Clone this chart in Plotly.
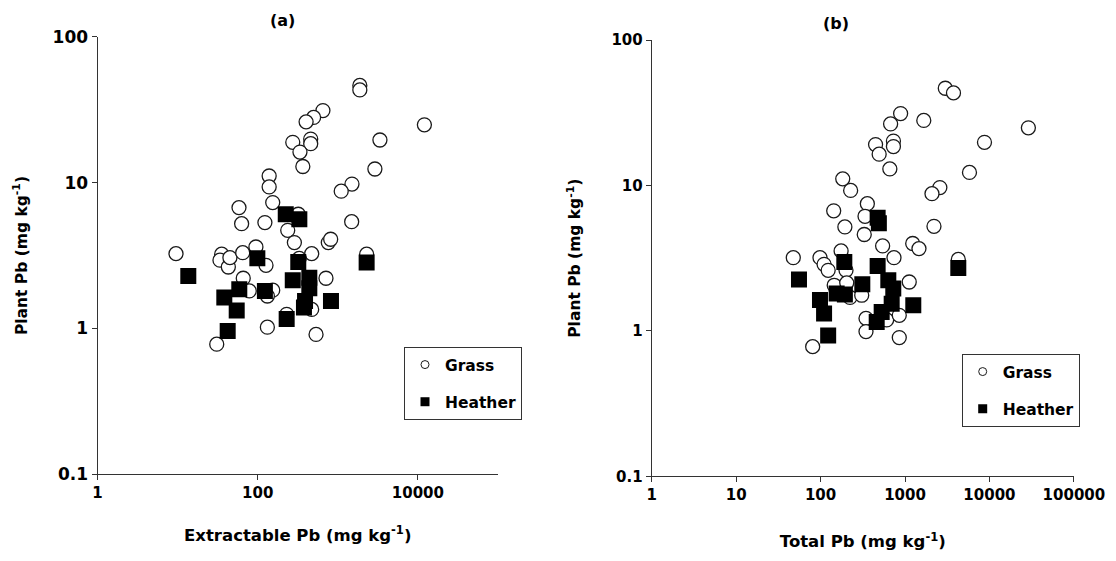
import plotly.graph_objects as go

# ---------------- data ----------------
# Panel (a): Extractable Pb vs Plant Pb
a_grass_x = [1884, 1884, 652, 499, 402, 12050, 3357, 274, 459, 459, 337, 366, 2904, 139, 139, 1503, 1103, 154,
             58.4, 63, 123, 321, 1490, 237, 287, 761, 815, 9.55, 35.5, 33.8, 43, 45, 65, 95, 127, 472, 2291,
             712, 66, 78.5, 154, 132, 472, 230, 132, 535, 30.8, 330]
a_grass_y = [46.4, 43.2, 31.2, 28.0, 26.1, 24.9, 19.6, 18.9, 19.9, 18.5, 16.2, 12.9, 12.4, 11.1, 9.35, 9.78, 8.74, 7.3,
             6.74, 5.23, 5.32, 6.07, 5.40, 4.71, 3.88, 3.88, 4.09, 3.26, 3.23, 2.94, 2.64, 3.06, 3.31, 3.62, 2.71, 3.26, 3.23,
             2.21, 2.21, 1.81, 1.83, 1.67, 1.35, 1.25, 1.02, 0.91, 0.78, 3.02]
a_heather_x = [13.6, 224, 331, 99, 321, 2291, 274, 441, 441, 58.9, 38.3, 123, 54.7, 390, 378, 822, 230, 42.2]
a_heather_y = [2.29, 6.07, 5.61, 3.03, 2.86, 2.83, 2.14, 2.23, 1.89, 1.86, 1.63, 1.81, 1.33, 1.54, 1.39, 1.54, 1.16, 0.96]

# Panel (b): Total Pb vs Plant Pb
b_grass_x = [2999, 3750, 887, 1668, 675, 28900, 8730, 448, 729, 729, 494, 661, 5800, 183, 227, 2585, 2086, 358, 143,
             336, 194, 329, 2202, 543, 1233, 1463, 47.5, 98.4, 110, 123, 175, 200, 740, 4275, 1122, 145, 204,
             223, 307, 345, 345, 606, 855, 855, 80.6]
b_grass_y = [46.6, 43.3, 31.2, 28.0, 26.5, 24.9, 19.8, 19.1, 20.2, 18.5, 16.4, 13.0, 12.3, 11.1, 9.24, 9.67, 8.78, 7.5, 6.69,
             6.14, 5.19, 4.60, 5.24, 3.84, 3.99, 3.68, 3.19, 3.19, 2.87, 2.61, 3.55, 2.61, 3.19, 3.10, 2.17, 2.06, 2.14,
             1.70, 1.76, 1.22, 0.99, 1.19, 1.28, 0.90, 0.78]
b_heather_x = [474, 490, 55.5, 191, 474, 4275, 312, 634, 726, 155, 194, 98.4, 110, 695, 1253, 529, 462, 123]
b_heather_y = [6.0, 5.5, 2.26, 2.98, 2.79, 2.71, 2.09, 2.23, 1.96, 1.81, 1.78, 1.63, 1.32, 1.54, 1.50, 1.35, 1.15, 0.93]

y_ticks = [0.1, 1, 10, 100]
y_ticktext = ["0.1", "1", "10", "100"]
a_x_ticks = [1, 100, 10000]
a_x_ticktext = ["1", "100", "10000"]
b_x_ticks = [1, 10, 100, 1000, 10000, 100000]
b_x_ticktext = ["1", "10", "100", "1000", "10000", "100000"]

series_names = ["Grass", "Heather"]
panel_titles = ["(a)", "(b)"]
x_titles = ["Extractable Pb (mg kg<sup>-1</sup>)", "Total Pb (mg kg<sup>-1</sup>)"]
y_title = "Plant Pb (mg kg<sup>-1</sup>)"

# ---------------- layout geometry (pixels) ----------------
W, H = 1116, 561
ML, MR, MT, MB = 97, 42, 36, 84
PW, PH = W - ML - MR, H - MT - MB


def fx(px):
    return (px - ML) / PW


def fy(py):
    return (H - MB - py) / PH


FONT = "DejaVu Sans"
BLACK = "#000000"


def bold(size):
    return dict(family=FONT, size=size, color=BLACK, weight="bold")


circle_marker = dict(symbol="circle", size=14, color="white", line=dict(color="#1a1a1a", width=1.3))
square_marker = dict(symbol="square", size=16, color="black", line=dict(color="black", width=0))

fig = go.Figure()

panels = [
    ("x", "y", a_grass_x, a_grass_y, a_heather_x, a_heather_y, "legend", "a"),
    ("x2", "y2", b_grass_x, b_grass_y, b_heather_x, b_heather_y, "legend2", "b"),
]
for xa, ya, gx, gy, hx, hy, leg, tag in panels:
    fig.add_trace(go.Scatter(x=gx, y=gy, mode="markers", name=series_names[0], xaxis=xa, yaxis=ya,
                             marker=circle_marker, showlegend=False, legendgroup="g" + tag, legend=leg))
    fig.add_trace(go.Scatter(x=hx, y=hy, mode="markers", name=series_names[1], xaxis=xa, yaxis=ya,
                             marker=square_marker, showlegend=False, legendgroup="h" + tag, legend=leg))
    # legend entries (small symbols like the original)
    fig.add_trace(go.Scatter(x=[None], y=[None], mode="markers", name=series_names[0], xaxis=xa, yaxis=ya,
                             marker=dict(symbol="circle", size=8, color="white", line=dict(color="#1a1a1a", width=1)),
                             showlegend=True, legendgroup="g" + tag, legend=leg))
    fig.add_trace(go.Scatter(x=[None], y=[None], mode="markers", name=series_names[1], xaxis=xa, yaxis=ya,
                             marker=dict(symbol="square", size=9, color="black"),
                             showlegend=True, legendgroup="h" + tag, legend=leg))

axis_common = dict(type="log", showline=True, linecolor="#333333", linewidth=1, ticks="outside", ticklen=5,
                   tickcolor="#333333", showgrid=False, zeroline=False, automargin=False)

fig.update_layout(
    width=W, height=H,
    margin=dict(l=ML, r=MR, t=MT, b=MB),
    paper_bgcolor="white", plot_bgcolor="white",
    font=dict(family=FONT, color=BLACK, size=15),
    xaxis=dict(axis_common, domain=[fx(97.5), fx(498)], range=[0, 5], tickmode="array",
               tickvals=a_x_ticks, ticktext=a_x_ticktext, anchor="y", tickfont=bold(15),
               title=dict(text=x_titles[0], font=bold(16.5), standoff=28)),
    yaxis=dict(axis_common, domain=[fy(474.3), fy(36.8)], range=[-1, 2], tickmode="array",
               tickvals=y_ticks, ticktext=y_ticktext, anchor="x", tickfont=bold(17),
               title=dict(text=y_title, font=bold(15.5), standoff=21)),
    xaxis2=dict(axis_common, domain=[fx(651.7), fx(1073.9)], range=[0, 5], tickmode="array",
                tickvals=b_x_ticks, ticktext=b_x_ticktext, anchor="y2", tickfont=bold(15),
                title=dict(text=x_titles[1], font=bold(16.5), standoff=32)),
    yaxis2=dict(axis_common, domain=[fy(476.4), fy(40)], range=[-1, 2], tickmode="array",
                tickvals=y_ticks, ticktext=y_ticktext, anchor="x2", tickfont=bold(15),
                title=dict(text=y_title, font=bold(15.5), standoff=26)),
    legend=dict(x=fx(404), y=fy(347), xanchor="left", yanchor="top", bordercolor="#333333", borderwidth=1,
                bgcolor="white", font=bold(15.5), tracegroupgap=14, traceorder="grouped", itemwidth=30),
    legend2=dict(x=fx(961.7), y=fy(354), xanchor="left", yanchor="top", bordercolor="#333333", borderwidth=1,
                 bgcolor="white", font=bold(15.5), tracegroupgap=14, traceorder="grouped", itemwidth=30),
    annotations=[
        dict(text=panel_titles[0], x=fx(282), y=fy(21), xref="paper", yref="paper", showarrow=False,
             xanchor="center", yanchor="middle", font=bold(16)),
        dict(text=panel_titles[1], x=fx(836), y=fy(23), xref="paper", yref="paper", showarrow=False,
             xanchor="center", yanchor="middle", font=bold(16)),
    ],
)

fig.write_html("out.html")
